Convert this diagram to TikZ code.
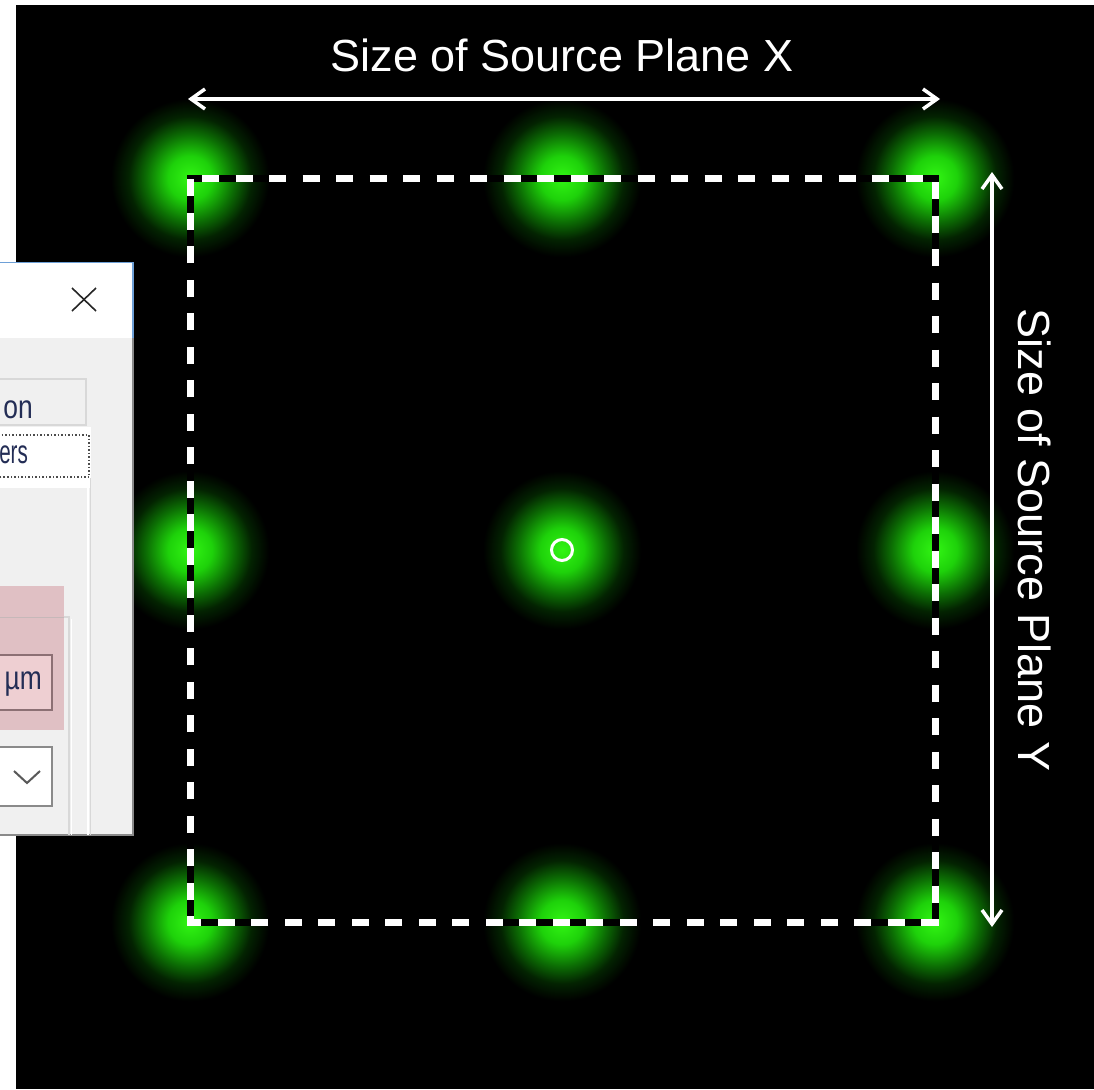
\documentclass[tikz,border=0pt]{standalone}
\usepackage{fontspec}
\setmainfont{Liberation Sans}
\usetikzlibrary{arrows.meta}
\definecolor{gA}{RGB}{50,245,20}
\definecolor{gB}{RGB}{30,210,10}
\definecolor{gC}{RGB}{12,110,4}
\definecolor{gD}{RGB}{3,35,1}
\definecolor{panelgray}{RGB}{240,240,240}
\definecolor{tabline}{RGB}{216,216,216}
\definecolor{dlgtext}{RGB}{35,45,85}
\definecolor{pinkhl}{RGB}{224,192,196}
\definecolor{pinkbox}{RGB}{238,207,210}
\definecolor{pinkedge}{RGB}{140,112,116}
\definecolor{winblue}{RGB}{110,160,215}
\definecolor{ddedge}{RGB}{138,138,138}
\pgfdeclareradialshading{glow}{\pgfpoint{0bp}{0bp}}{color(0bp)=(gA); color(5bp)=(gB); color(10bp)=(gC); color(14bp)=(gD); color(18bp)=(black); color(25bp)=(black); color(50bp)=(black)}
\begin{document}
\begin{tikzpicture}[x=1pt,y=-1pt,
  lbl/.style={text=white,font=\fontsize{45}{54}\selectfont,inner sep=0pt},
  dimarrow/.style={white,line width=3.5pt,{Straight Barb[length=14pt,width=20pt]}-{Straight Barb[length=14pt,width=20pt]}},
  ptxt/.style={text=dlgtext,font=\fontsize{33}{38}\selectfont,inner sep=0pt,xscale=0.8},
  glowspot/.style={shading=glow},
  edgeblack/.style={black,line width=7pt},
  edgewhite/.style={white,line width=7pt,dash pattern=on 17pt off 16.5pt,dash phase=21.5pt}
 ]
\useasboundingbox (0,0) rectangle (1094,1089);
\fill[white] (0,0) rectangle (1094,1089);
\fill[black] (16,5) rectangle (1094,1089);
% glows
\foreach \gx in {190,562,935}
  \foreach \gy in {178,550,922}
    \shade[glowspot] (\gx,\gy) circle (110);
% dashed source plane
\coordinate (c1) at (190,178);
\coordinate (c2) at (935,178);
\coordinate (c3) at (935,922);
\coordinate (c4) at (190,922);
\draw[edgeblack] (c1) -- (c2) -- (c3) -- (c4) -- cycle;
\draw[edgewhite] (c1) -- (c2) -- (c3) -- (c4) -- cycle;
% center ring
\node[circle,draw=white,line width=3pt,minimum size=21pt,inner sep=0pt] (ring) at (562,550) {};
% dimension arrows
\coordinate (xa) at (188,99);
\coordinate (xb) at (940,99);
\draw[dimarrow] (xa) -- (xb);
\coordinate (ya) at (992,172);
\coordinate (yb) at (992,927);
\draw[dimarrow] (ya) -- (yb);
\node[lbl,anchor=base] (lx) at (562,72) {Size of Source Plane X};
\node[lbl,anchor=base,rotate=-90] (ly) at (1018,540) {Size of Source Plane Y};
% dialog panel
\begin{scope}
\clip (0,262) rectangle (134,836);
\fill[panelgray] (0,262) rectangle (133,835);
\fill[white] (0,262) rectangle (133,338);
\draw[winblue,line width=1.5pt] (0,262.5) -- (133,262.5) -- (133,338);
\draw[ddedge,line width=1.5pt] (133,338) -- (133,835) -- (0,835);
% close cross
\draw[black!85,line width=1.6pt] (72,288) -- (96,311);
\draw[black!85,line width=1.6pt] (96,288) -- (72,311);
% tab "on"
\draw[tabline,line width=1.5pt,fill=panelgray] (-2,379) rectangle (86,425);
\node[ptxt,anchor=east] (ton) at (33,410) {on};
% selected tab
\fill[white] (-2,427) rectangle (91,488);
\draw[black!70,line width=1.5pt,dotted] (-2,435) -- (89,435) -- (89,477) -- (-2,477);
\node[ptxt,anchor=east,xscale=0.78] (ters) at (28,455) {ers};
% tab page borders
\draw[tabline,line width=1.5pt] (90.5,478) -- (90.5,835);
\draw[white,line width=1.5pt] (88,488) -- (88,835);
% group box
\draw[tabline,line width=1.5pt] (0,617) -- (69,617) -- (69,835);
\draw[white,line width=1pt] (71,619) -- (71,835);
% pink highlight
\fill[pinkhl] (0,586) rectangle (64,730);
\draw[pinkedge!50,line width=1pt] (0,617) -- (64,617);
\draw[pinkedge,line width=2pt,fill=pinkbox] (-2,655) rectangle (52,710);
\node[ptxt,anchor=east] (tum) at (42,684) {µm};
% dropdown
\draw[ddedge,line width=2pt,fill=white] (-2,747) rectangle (52,806);
\draw[black!65,line width=2pt] (14,771) -- (27,783) -- (40,771);
\end{scope}
\end{tikzpicture}
\end{document}
